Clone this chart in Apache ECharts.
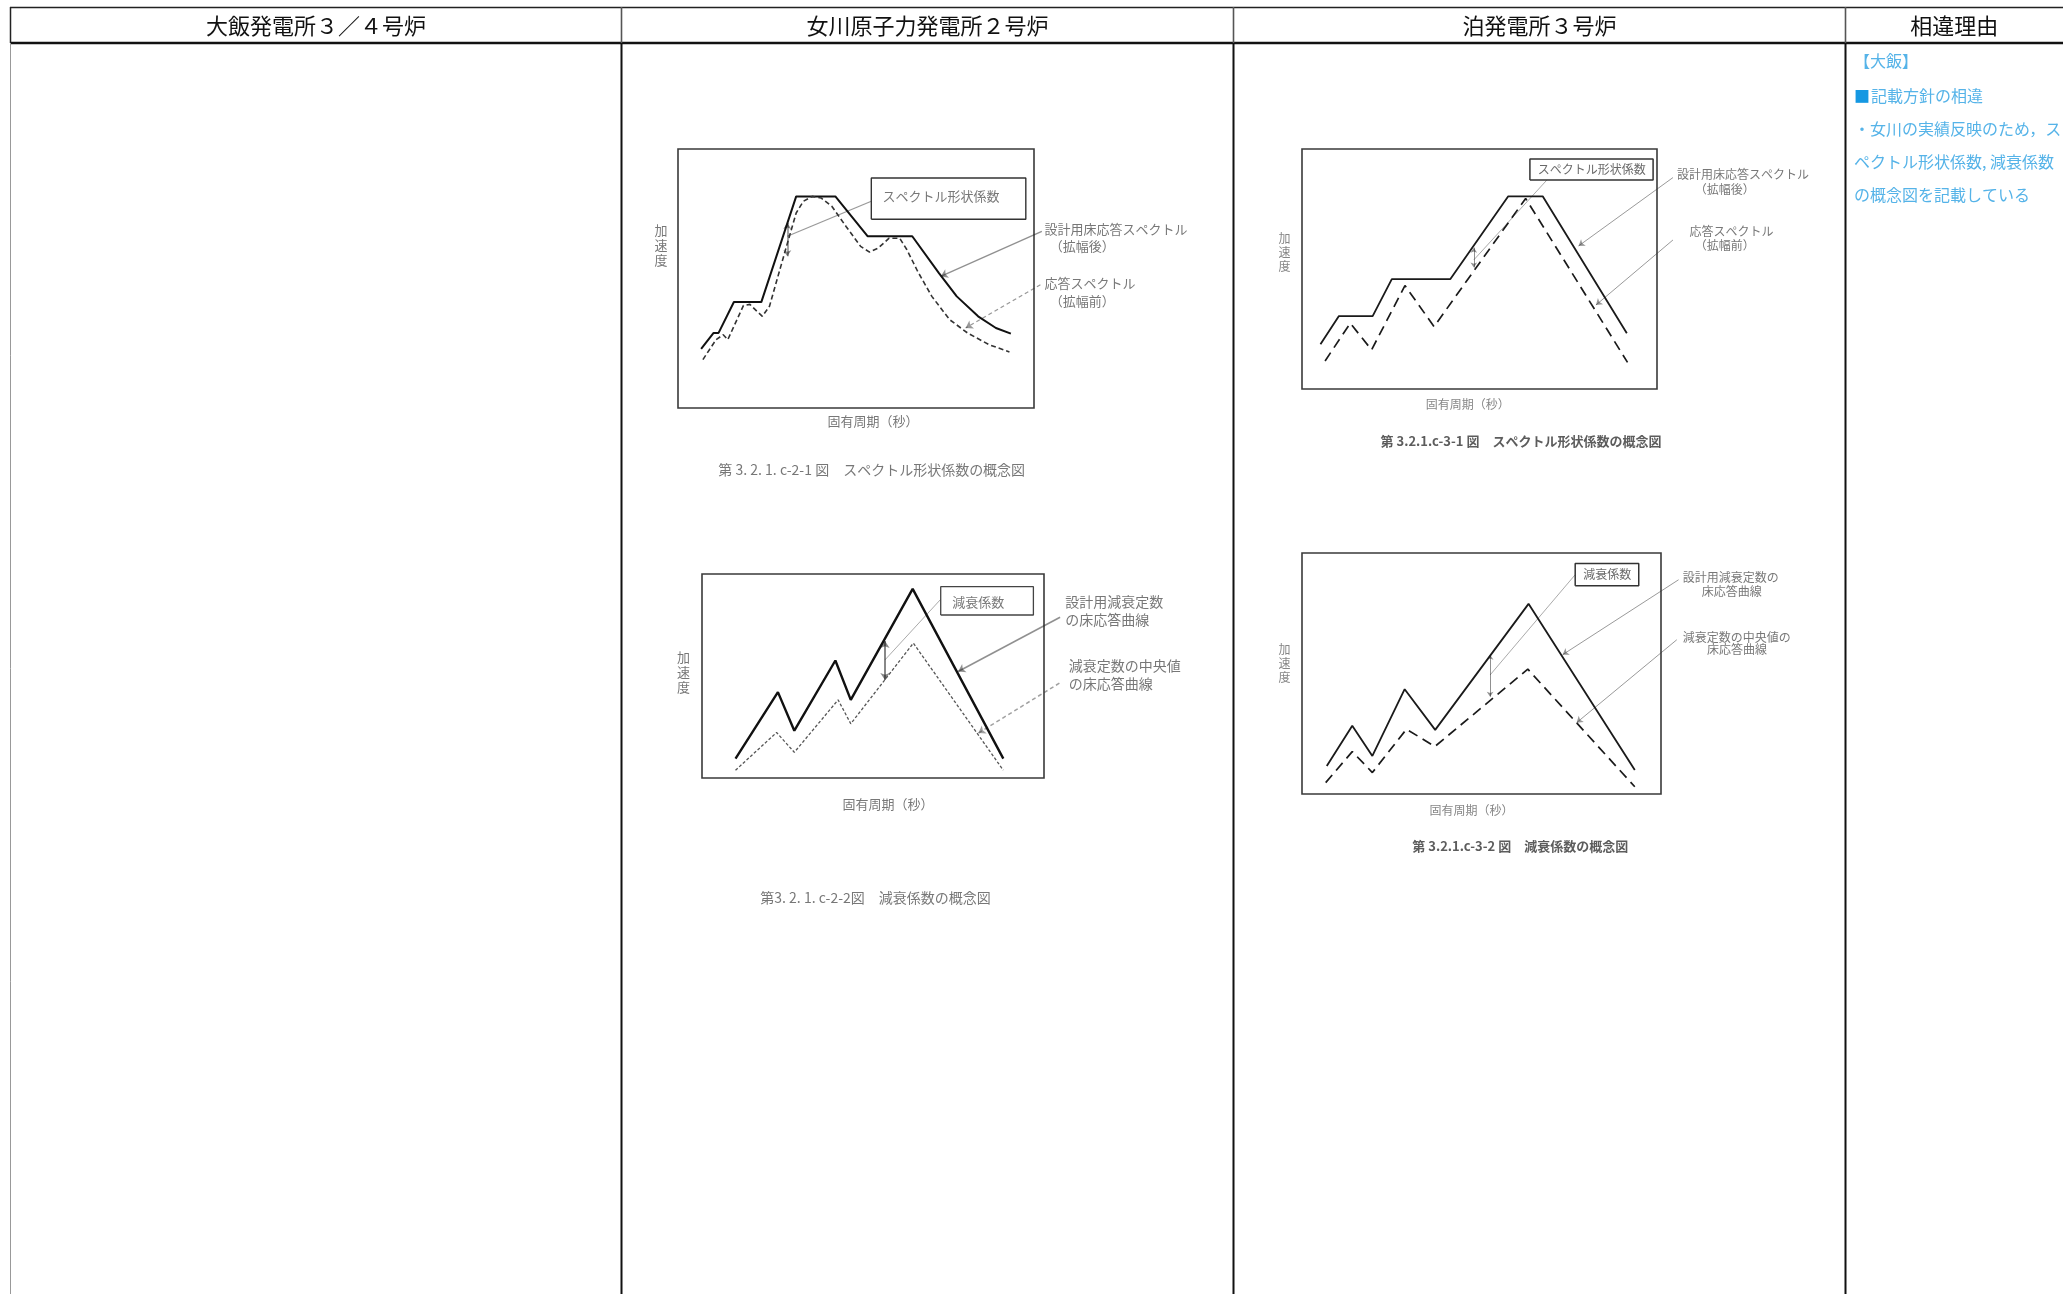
<!DOCTYPE html>
<html>
<head>
<meta charset="utf-8">
<title>床応答スペクトル 概念図 比較</title>
<script src="https://cdn.jsdelivr.net/npm/echarts@6/dist/echarts.min.js"></script>
<style>
  html, body { margin: 0; padding: 0; background: #fff; }
  #main { width: 2063px; height: 1294px; }
</style>
</head>
<body>
<div id="main"></div>
<script>
// 表の見出し
var columnTitles = ['大飯発電所３／４号炉', '女川原子力発電所２号炉', '泊発電所３号炉', '相違理由'];

// 女川 第3.2.1.c-2-1図 (横: 固有周期, 縦: 加速度, 枠内 0-100)
var onaSpecDesign = [[6.5,22.8],[10.0,29.0],[11.4,29.0],[15.7,40.9],[23.4,40.9],[33.2,81.7],[44.2,81.7],
  [53.3,66.3],[65.8,66.3],[73.3,52.1],[78.3,43.1],[84.3,35.4],[89.3,30.9],[93.5,28.7]];
var onaSpecOrig = [[7.0,18.7],[10.7,26.4],[12.7,28.3],[14.0,26.4],[18.4,39.6],[20.2,40.0],[22.2,37.3],
  [23.7,35.4],[25.7,39.3],[30.2,61.1],[33.2,75.3],[35.2,79.8],[37.7,81.7],[40.2,81.1],[43.2,77.9],
  [47.2,70.1],[51.3,62.4],[53.8,60.2],[56.3,61.8],[59.3,65.6],[62.3,65.5],[64.3,61.1],[67.3,52.8],
  [71.3,43.1],[76.3,34.1],[81.3,29.0],[87.3,24.5],[93.1,21.6]];

// 女川 第3.2.1.c-2-2図
var onaDampDesign = [[9.8,9.5],[22.2,42.1],[27.0,23.2],[39.0,57.6],[43.5,38.3],[61.6,92.7],[88.1,9.5]];
var onaDampMedian = [[9.8,3.8],[21.8,22.3],[27.0,12.6],[39.8,38.3],[43.5,26.6],[61.8,66.1],[88.1,3.8]];

// 泊 第3.2.1.c-3-1図
var tomSpecDesign = [[5.2,18.6],[10.4,30.4],[19.9,30.4],[25.3,45.8],[41.8,45.8],[58.1,80.3],[67.8,80.3],[91.5,23.2]];
var tomSpecOrig = [[6.5,11.7],[13.6,27.4],[19.6,16.3],[29.0,43.1],[37.2,26.0],[63.0,79.4],[91.7,11.1]];

// 泊 第3.2.1.c-3-2図
var tomDampDesign = [[6.9,11.6],[14.0,28.3],[19.6,15.8],[28.6,43.5],[37.1,26.6],[63.1,78.9],[92.7,10.0]];
var tomDampMedian = [[6.6,4.7],[14.0,17.6],[19.6,8.9],[29.1,26.9],[37.0,19.7],[62.9,51.8],[92.7,3.0]];

var FONT = '"Noto Sans CJK JP", "Noto Sans", sans-serif';

var myChart = echarts.init(document.getElementById('main'), null, { renderer: 'canvas' });

// 各図の枠
var grids = [
  { left: 678, top: 149, width: 356, height: 259 },
  { left: 702, top: 574, width: 342, height: 204 },
  { left: 1302, top: 149, width: 355, height: 240 },
  { left: 1302, top: 553, width: 359, height: 241 }
];

var xAxes = [], yAxes = [];
grids.forEach(function (g, i) {
  g.show = true;
  g.borderColor = '#3a3a3a';
  g.borderWidth = 1.6;
  g.backgroundColor = 'transparent';
  g.containLabel = false;
  xAxes.push({ type: 'value', gridIndex: i, min: 0, max: 100, show: false });
  yAxes.push({ type: 'value', gridIndex: i, min: 0, max: 100, show: false });
});

function curve(idx, data, color, width, type) {
  return {
    type: 'line', xAxisIndex: idx, yAxisIndex: idx, data: data,
    showSymbol: false, symbol: 'none', clip: false, silent: true,
    lineStyle: { color: color, width: width, type: type }
  };
}

function box(idx, r, color, width) {
  return curve(idx, [[r[0], r[1]], [r[2], r[1]], [r[2], r[3]], [r[0], r[3]], [r[0], r[1]]], color, width, 'solid');
}

function segs(idx, list, sym, size) {
  return {
    type: 'lines', coordinateSystem: 'cartesian2d', xAxisIndex: idx, yAxisIndex: idx,
    clip: false, silent: true, symbol: sym, symbolSize: size,
    data: list.map(function (s) {
      return { coords: s.c, lineStyle: { color: s.color || '#333', width: s.w || 1, type: s.type || 'solid' } };
    })
  };
}

// texts: [x, y, text, align, size, color, weight]
function texts(idx, list) {
  return {
    type: 'scatter', xAxisIndex: idx, yAxisIndex: idx, clip: false, silent: true,
    symbolSize: 1, itemStyle: { color: 'transparent' },
    data: list.map(function (t) {
      return {
        value: [t[0], t[1]],
        label: {
          show: true, formatter: t[2],
          position: t[3] === 'left' ? 'right' : 'inside',
          distance: 0,
          fontFamily: FONT, fontSize: t[4] || 13, color: t[5] || '#555',
          fontWeight: t[6] || 'normal', lineHeight: (t[4] || 13) + 2
        }
      };
    })
  };
}

var series = [];

// --- 女川 図1 ---
series.push(curve(0, onaSpecDesign, '#111', 2, 'solid'));
series.push(curve(0, onaSpecOrig, '#333', 1.6, [5, 3]));
series.push(box(0, [54.3, 72.9, 97.7, 88.8], '#333', 1.4));
series.push(segs(0, [{ c: [[54.3, 79.8], [30.7, 66.3]], w: 1.2 }], ['none', 'none'], 0));
series.push(segs(0, [{ c: [[30.7, 71.4], [30.7, 58.6]], w: 1.5, color: '#111' }], ['arrow', 'arrow'], 6));
series.push(segs(0, [
  { c: [[102.2, 68.2], [73.8, 50.8]], w: 1.3, color: '#222' },
  { c: [[101.8, 47.6], [80.8, 30.9]], w: 1.3, color: '#333', type: [4, 3] }
], ['none', 'arrow'], 7));
series.push(texts(0, [
  [57.3, 82.0, 'スペクトル形状係数', 'left', 13],
  [102.8, 69.1, '設計用床応答スペクトル', 'left', 13],
  [104.3, 62.7, '（拡幅後）', 'left', 13],
  [102.8, 48.3, '応答スペクトル', 'left', 13],
  [104.3, 41.2, '（拡幅前）', 'left', 13],
  [-4.8, 63, '加\n速\n度', 'center', 13],
  [54.8, -5.1, '固有周期（秒）', 'center', 13],
  [11.2, -23.8, '第 3. 2. 1. c-2-1 図　スペクトル形状係数の概念図', 'left', 14]
]));

// --- 女川 図2 ---
series.push(curve(1, onaDampDesign, '#111', 2.4, 'solid'));
series.push(curve(1, onaDampMedian, '#555', 1.3, [3, 2]));
series.push(box(1, [69.8, 79.9, 96.9, 93.8], '#444', 1.3));
series.push(segs(1, [{ c: [[69.8, 87.6], [53.5, 57.9]], w: 1, color: '#555' }], ['none', 'none'], 0));
series.push(segs(1, [{ c: [[53.5, 67.2], [53.5, 48.1]], w: 2, color: '#111' }], ['arrow', 'arrow'], 7));
series.push(segs(1, [
  { c: [[104.7, 78.8], [74.9, 52.2]], w: 1.5, color: '#222' },
  { c: [[104.5, 46.5], [80.8, 22.0]], w: 1.5, color: '#444', type: [4, 3] }
], ['none', 'arrow'], 7));
series.push(texts(1, [
  [73.0, 86.0, '減衰係数', 'left', 13],
  [106.1, 86.5, '設計用減衰定数', 'left', 14],
  [106.1, 77.8, 'の床応答曲線', 'left', 14],
  [107.1, 55.0, '減衰定数の中央値', 'left', 14],
  [107.1, 46.2, 'の床応答曲線', 'left', 14],
  [-5.4, 52, '加\n速\n度', 'center', 13],
  [54.4, -13, '固有周期（秒）', 'center', 13],
  [16.9, -58.7, '第3. 2. 1. c-2-2図　減衰係数の概念図', 'left', 14]
]));

// --- 泊 図1 ---
series.push(curve(2, tomSpecDesign, '#1a1a1a', 1.8, 'solid'));
series.push(curve(2, tomSpecOrig, '#1a1a1a', 1.7, [10, 6]));
series.push(box(2, [64.2, 87.1, 98.9, 95.8], '#333', 1.5));
series.push(segs(2, [{ c: [[69.0, 87.1], [48.4, 53.8]], w: 1, color: '#555' }], ['none', 'none'], 0));
series.push(segs(2, [{ c: [[48.4, 58.9], [48.4, 50.6]], w: 1, color: '#222' }], ['arrow', 'arrow'], 5));
series.push(segs(2, [
  { c: [[104.5, 88.1], [77.9, 59.6]], w: 1, color: '#333' },
  { c: [[104.5, 62.1], [82.8, 35.0]], w: 1, color: '#333' }
], ['none', 'arrow'], 6));
series.push(texts(2, [
  [81.6, 91.5, 'スペクトル形状係数', 'center', 12, '#444'],
  [105.5, 89.2, '設計用床応答スペクトル', 'left', 12, '#555'],
  [110.5, 83.3, '（拡幅後）', 'left', 12, '#555'],
  [109.0, 65.6, '応答スペクトル', 'left', 12, '#555'],
  [110.5, 60.0, '（拡幅前）', 'left', 12, '#555'],
  [-4.9, 57, '加\n速\n度', 'center', 12, '#666'],
  [46.7, -6.4, '固有周期（秒）', 'center', 12, '#666'],
  [22.0, -21.7, '第 3.2.1.c-3-1 図　スペクトル形状係数の概念図', 'left', 13, '#333', 'bold']
]));

// --- 泊 図2 ---
series.push(curve(3, tomDampDesign, '#1a1a1a', 1.8, 'solid'));
series.push(curve(3, tomDampMedian, '#1a1a1a', 1.7, [10, 6]));
series.push(box(3, [76.1, 86.4, 93.8, 95.6], '#333', 1.5));
series.push(segs(3, [{ c: [[76.1, 91.0], [52.4, 49.4]], w: 1, color: '#555' }], ['none', 'none'], 0));
series.push(segs(3, [{ c: [[52.4, 57.8], [52.4, 40.4]], w: 1, color: '#222' }], ['arrow', 'arrow'], 5));
series.push(segs(3, [
  { c: [[104.9, 88.9], [72.6, 57.8]], w: 1, color: '#333' },
  { c: [[104.4, 64.0], [76.5, 29.6]], w: 1, color: '#333' }
], ['none', 'arrow'], 6));
series.push(texts(3, [
  [85.0, 91.0, '減衰係数', 'center', 12, '#444'],
  [105.9, 90.0, '設計用減衰定数の', 'left', 12, '#555'],
  [111.2, 84.1, '床応答曲線', 'left', 12, '#555'],
  [105.9, 65.1, '減衰定数の中央値の', 'left', 12, '#555'],
  [112.7, 59.8, '床応答曲線', 'left', 12, '#555'],
  [-4.9, 54, '加\n速\n度', 'center', 12, '#666'],
  [47.2, -6.9, '固有周期（秒）', 'center', 12, '#666'],
  [30.6, -21.6, '第 3.2.1.c-3-2 図　減衰係数の概念図', 'left', 13, '#333', 'bold']
]));

// 表の罫線と見出し
var colX = [10.5, 621.5, 1233.5, 1845.5, 2063];
var graphic = [
  { type: 'line', silent: true, shape: { x1: 10, y1: 7.5, x2: 2063, y2: 7.5 }, style: { stroke: '#222', lineWidth: 1.5 } },
  { type: 'line', silent: true, shape: { x1: 10, y1: 43, x2: 2063, y2: 43 }, style: { stroke: '#111', lineWidth: 2.5 } },
  { type: 'line', silent: true, shape: { x1: 10.5, y1: 7, x2: 10.5, y2: 43 }, style: { stroke: '#222', lineWidth: 1.5 } },
  { type: 'line', silent: true, shape: { x1: 10.5, y1: 43, x2: 10.5, y2: 1294 }, style: { stroke: '#999', lineWidth: 1 } }
];
[1, 2, 3].forEach(function (i) {
  graphic.push({ type: 'line', silent: true, shape: { x1: colX[i], y1: 7, x2: colX[i], y2: 43 }, style: { stroke: '#555', lineWidth: 1.6 } });
  graphic.push({ type: 'line', silent: true, shape: { x1: colX[i], y1: 43, x2: colX[i], y2: 1294 }, style: { stroke: '#111', lineWidth: 2 } });
});
columnTitles.forEach(function (t, i) {
  graphic.push({
    type: 'text', silent: true, x: (colX[i] + colX[i + 1]) / 2, y: 25.5,
    style: { text: t, fill: '#111', font: '22px ' + FONT, textAlign: 'center', textVerticalAlign: 'middle' }
  });
});

// 相違理由
var reasonColor = '#55b3e8';
var reasons = [
  ['【大飯】', 61],
  ['記載方針の相違', 96],
  ['・女川の実績反映のため，ス', 129],
  ['ペクトル形状係数, 減衰係数', 162],
  ['の概念図を記載している', 195]
];
reasons.forEach(function (r, i) {
  graphic.push({
    type: 'text', silent: true, x: i === 1 ? 1871 : 1854, y: r[1],
    style: { text: r[0], fill: reasonColor, font: '16px ' + FONT, textAlign: 'left', textVerticalAlign: 'middle' }
  });
});
graphic.push({
  type: 'text', silent: true, x: 1854, y: 96,
  style: { text: '■', fill: '#1598e2', font: '16px ' + FONT, textAlign: 'left', textVerticalAlign: 'middle' }
});

var option = {
  animation: false,
  backgroundColor: '#ffffff',
  grid: grids,
  xAxis: xAxes,
  yAxis: yAxes,
  series: series,
  graphic: graphic
};

myChart.setOption(option);

window.addEventListener('resize', function () {
  myChart.resize();
});
</script>
</body>
</html>
